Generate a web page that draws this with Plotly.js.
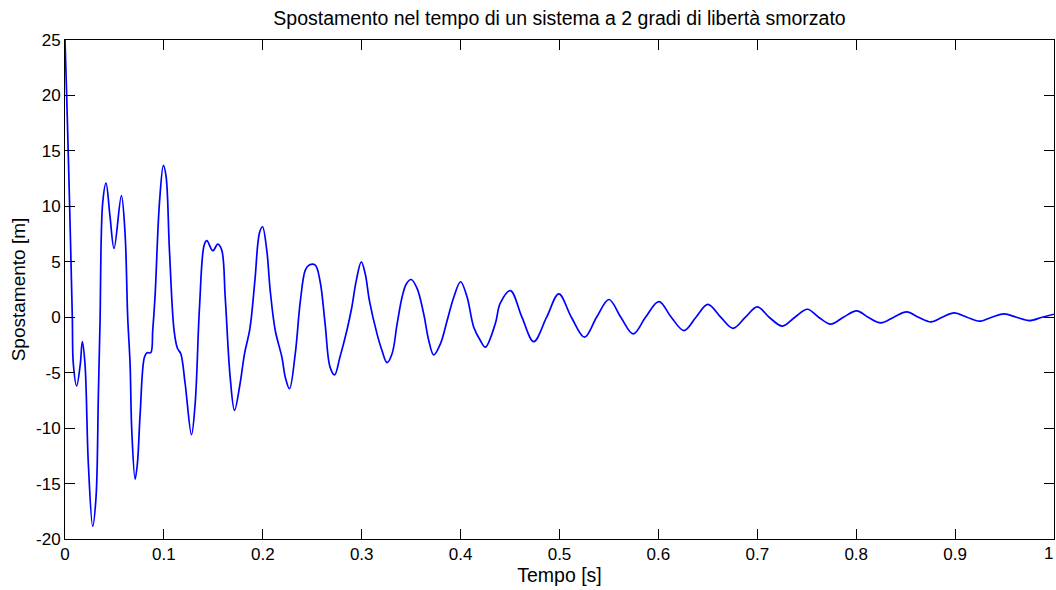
<!DOCTYPE html>
<html>
<head>
<meta charset="utf-8">
<script src="https://cdn.plot.ly/plotly-3.0.1.min.js"></script>
<style>html,body{margin:0;padding:0;background:#fff;}#chart{width:1056px;height:590px;}</style>
</head>
<body>
<div id="chart"></div>
<script>
// Time [s]
const tempo = [
  0, 0.0017, 0.0044, 0.0074, 0.0084, 0.0118, 0.0155, 0.0175, 0.0202, 0.0236, 0.028, 0.0314, 0.0337, 0.0354, 0.0381,
  0.0415, 0.0455, 0.0496, 0.057, 0.0607, 0.0634, 0.0658, 0.0675, 0.0709, 0.0732, 0.076, 0.0803, 0.083, 0.0867,
  0.0887, 0.091, 0.0955, 0.0995, 0.1022, 0.1056, 0.1103, 0.1137, 0.1171, 0.1215, 0.1279, 0.1316, 0.136, 0.1407,
  0.1434, 0.1495, 0.1545, 0.1585, 0.162, 0.167, 0.1714, 0.177, 0.1815, 0.187, 0.192, 0.1966, 0.1997, 0.204,
  0.2075, 0.2126, 0.2193, 0.2227, 0.227, 0.2328, 0.2379, 0.243, 0.247, 0.253, 0.258, 0.263, 0.268, 0.2726,
  0.278, 0.285, 0.290, 0.2945, 0.2996, 0.3036, 0.308, 0.3155, 0.3205, 0.3256, 0.3307, 0.3358, 0.3408, 0.3451,
  0.350, 0.356, 0.3627, 0.3678, 0.3728, 0.3796, 0.3864, 0.3931, 0.400, 0.4066, 0.4133, 0.420, 0.425, 0.4352,
  0.440, 0.4504, 0.462, 0.474, 0.487, 0.4993, 0.512, 0.5253, 0.5375, 0.55, 0.562, 0.5746, 0.587, 0.6005,
  0.613, 0.6258, 0.638, 0.650, 0.663, 0.6754, 0.688, 0.700, 0.712, 0.7254, 0.738, 0.7507, 0.762, 0.7743,
  0.787, 0.8006, 0.812, 0.8249, 0.838, 0.851, 0.863, 0.8755, 0.887, 0.899, 0.912, 0.9244, 0.937, 0.9497,
  0.962, 0.975, 0.988, 1.0
];
// Displacement [m]
const spostamento = [
  25, 20, 11, 0, -4.2, -6.2, -4.2, -2.2, -4.2, -13.2, -18.85, -16.2, -7.2, -0.5, 10.3,
  12.1, 9.1, 6.2, 10.96, 7.6, 0, -4.2, -10.2, -14.6, -13.2, -8.7, -3.6, -3.2, -3.2,
  -1.2, 1.8, 10.3, 13.7, 12.7, 6.05, -1.2, -2.8, -3.3, -6.0, -10.6, -7.8, 0.9, 6.5,
  6.9, 6.0, 6.6, 6.05, 1.8, -5.4, -8.4, -6.0, -3.3, -1.0, 3.3, 7.6, 8.16, 6.05,
  2.4, -1.2, -3.6, -5.4, -6.45, -3.3, 1.4, 4.25, 4.7, 4.7, 3.2, -0.6, -4.5, -5.2,
  -3.6, -1.2, 0.9, 3.3, 5.0, 3.9, 1.4, -1.5, -3.0, -4.1, -3.3, -0.6, 1.8, 3.0,
  3.4, 2.6, 0.3, -2.1, -3.4, -2.4, -0.3, 1.8, 3.2, 1.8, -0.9, -2.1, -2.7, -0.55,
  1.25, 2.4, 0, -2.2, 0, 2.1, 0, -1.8, 0, 1.6, 0, -1.5, 0, 1.4,
  0, -1.2, 0, 1.15, 0, -1.0, 0, 0.93, 0, -0.8, 0, 0.72, 0, -0.63,
  0, 0.57, 0, -0.51, 0, 0.48, 0, -0.42, 0, 0.39, 0, -0.36, 0, 0.3,
  0, -0.3, 0, 0.27
];
const xTicks = [0, 0.1, 0.2, 0.3, 0.4, 0.5, 0.6, 0.7, 0.8, 0.9];
const xLastTick = 1;
const yTicks = [-20, -15, -10, -5, 0, 5, 10, 15, 20, 25];

const fontFam = '"Liberation Sans", Arial, Helvetica, sans-serif';

const trace = {
  x: tempo,
  y: spostamento,
  type: 'scatter',
  mode: 'lines',
  line: {color: '#0000ff', width: 1.7, shape: 'spline', smoothing: 1},
  hoverinfo: 'x+y'
};

const axisCommon = {
  showline: true, linecolor: '#000', linewidth: 1, mirror: 'ticks',
  ticks: 'inside', ticklen: 10, tickwidth: 1, tickcolor: '#000',
  showgrid: false, zeroline: false,
  tickfont: {family: fontFam, size: 17, color: '#000'}
};

const layout = {
  width: 1056, height: 590,
  margin: {l: 65, r: 2, t: 40, b: 51},
  paper_bgcolor: '#fff', plot_bgcolor: '#fff',
  showlegend: false,
  font: {family: fontFam, color: '#000'},
  title: {text: 'Spostamento nel tempo di un sistema a 2 gradi di libertà smorzato',
          font: {family: fontFam, size: 19.5, color: '#000'},
          x: 0.5, xanchor: 'center', xref: 'paper', y: 1 - 18/590, yref: 'container', yanchor: 'middle'},
  xaxis: Object.assign({}, axisCommon, {
    range: [0, 1], tickvals: xTicks.concat([xLastTick]), ticktext: xTicks.map(String).concat(['']),
    title: {text: 'Tempo [s]', font: {family: fontFam, size: 19.5, color: '#000'}, standoff: 3}
  }),
  yaxis: Object.assign({}, axisCommon, {
    range: [-20, 25], tickvals: yTicks, ticktext: yTicks.map(String),
    title: {text: 'Spostamento [m]', font: {family: fontFam, size: 19, color: '#000'}, standoff: 5}
  }),
  annotations: [{
    x: xLastTick, xref: 'x', y: 0, yref: 'paper', yshift: -3, xshift: 1,
    text: String(xLastTick), showarrow: false, xanchor: 'right', yanchor: 'top',
    font: {family: fontFam, size: 17, color: '#000'}
  }]
};

Plotly.newPlot('chart', [trace], layout, {displayModeBar: false, staticPlot: true});
</script>
</body>
</html>
